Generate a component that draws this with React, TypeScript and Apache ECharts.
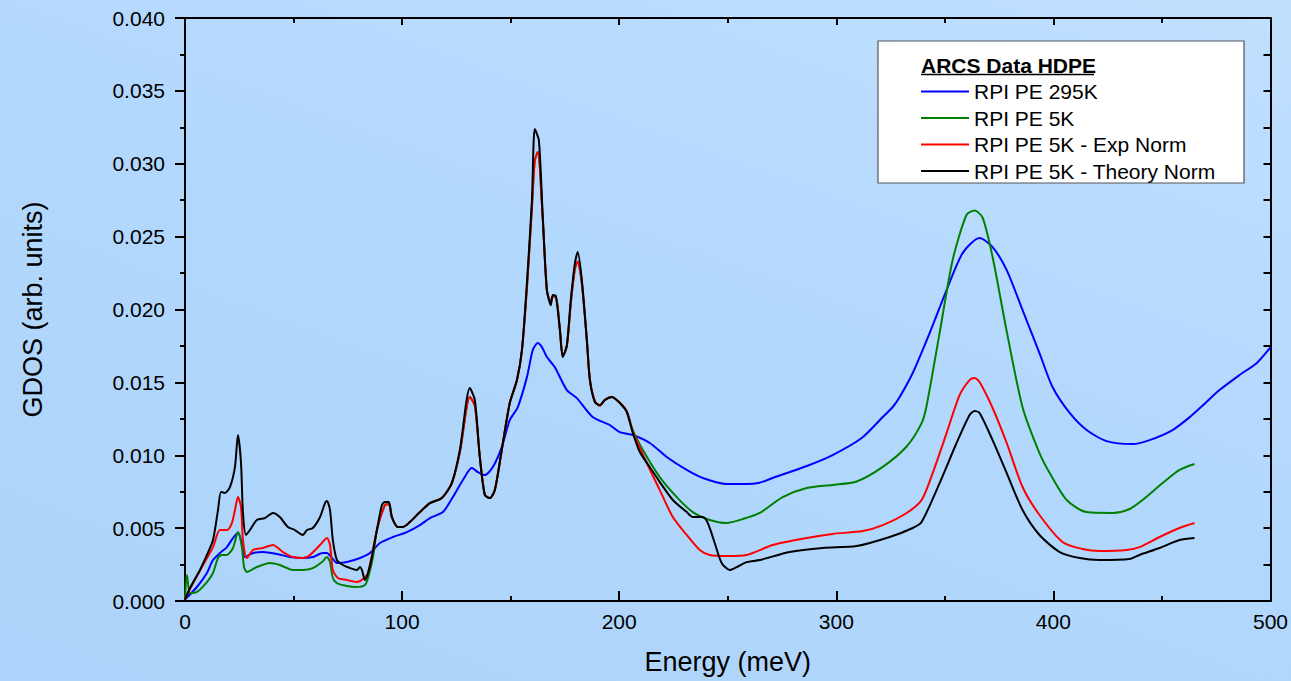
import React, { useEffect, useRef } from "react";
import * as echarts from "echarts";

const FONT = '"Liberation Sans", Arial, sans-serif';

const seriesNames = ["RPI PE 295K", "RPI PE 5K", "RPI PE 5K - Exp Norm", "RPI PE 5K - Theory Norm"];
const seriesColors = ["#0000ff", "#008000", "#ff0000", "#000000"];
const legendTitle = "ARCS Data HDPE";
const xTitle = "Energy (meV)";
const yTitle = "GDOS (arb. units)";

const pe295K: [number, number][] = [
  [0, 0.0001], [5.5, 0.00096], [10.1, 0.00192], [12.9, 0.00281], [16.1, 0.00329], [19.3, 0.0037], [22.1, 0.00432],
  [24.4, 0.00466], [26.2, 0.00398], [27.6, 0.00302], [31.3, 0.00329], [35.9, 0.00336], [42.4, 0.00322], [48.3, 0.00302],
  [54.3, 0.00295], [58.9, 0.00302], [63.5, 0.00329], [65.4, 0.00329], [67.7, 0.00295], [70.0, 0.00261], [74.6, 0.00267],
  [80.6, 0.00295], [85.2, 0.00329], [89.8, 0.00398], [95.8, 0.00439], [102.2, 0.00473], [108.2, 0.00521], [112.8, 0.00569],
  [118.8, 0.0061], [123.4, 0.00713], [128.0, 0.0083], [132.1, 0.00912], [134.9, 0.00885], [138.1, 0.00864], [141.8, 0.00919],
  [145.9, 0.01056], [149.6, 0.01241], [153.3, 0.01331], [157.5, 0.01536], [160.2, 0.01722], [162.5, 0.0177], [164.4, 0.01742],
  [166.7, 0.01674], [170.3, 0.01605], [175.9, 0.01447], [180.5, 0.01392], [187.8, 0.01262], [195.7, 0.01207], [200.3, 0.01159],
  [206.3, 0.01139], [214.1, 0.01084], [221.9, 0.00988], [231.1, 0.00899], [238.5, 0.00844], [249.5, 0.00803], [258.7, 0.00803],
  [264.7, 0.00812], [270.7, 0.00844], [286.4, 0.00926], [298.3, 0.01001], [311.7, 0.01118], [321.4, 0.01262], [326.0, 0.01331],
  [329.2, 0.01399], [335.2, 0.01564], [343.0, 0.01838], [350.8, 0.02133], [358.2, 0.02387], [366.0, 0.0249], [372.0, 0.02428],
  [378.5, 0.0227], [385.8, 0.01996], [393.6, 0.01701], [399.6, 0.01468], [407.5, 0.0129], [415.3, 0.01173], [424.5, 0.01097],
  [436.5, 0.01077], [444.3, 0.01104], [454.9, 0.01173], [462.7, 0.0126], [468.7, 0.0134], [476.5, 0.01447], [485.7, 0.0155],
  [493.6, 0.01632], [500, 0.0174],
];

const pe5K: [number, number][] = [
  [0, 0.0002], [0.9, 0.00178], [2.3, 0.00055], [5.5, 0.00062], [10.1, 0.0013], [12.9, 0.00192], [15.2, 0.00295], [17.0, 0.00316],
  [19.3, 0.00316], [22.1, 0.00364], [24.4, 0.00473], [26.2, 0.0037], [27.2, 0.00233], [28.5, 0.00199], [33.1, 0.00233],
  [39.1, 0.00261], [43.7, 0.00247], [49.7, 0.00213], [54.3, 0.00213], [58.9, 0.00226], [63.1, 0.00267], [65.4, 0.00302],
  [66.8, 0.00267], [68.1, 0.00158], [70.0, 0.00123], [74.6, 0.00103], [79.2, 0.00096], [82.9, 0.0011], [84.3, 0.00158],
  [86.6, 0.00302], [88.4, 0.00487], [92.1, 0.00658], [93.9, 0.00665], [95.3, 0.00576], [98.1, 0.00508], [100.4, 0.00508],
  [103.6, 0.00542], [108.2, 0.0061], [112.8, 0.00672], [118.3, 0.00706], [122.9, 0.00809], [126.6, 0.0102], [131.2, 0.014],
  [133.5, 0.0134], [135.8, 0.00988], [138.1, 0.0073], [140.4, 0.00706], [142.7, 0.00761], [145.9, 0.01036], [149.6, 0.01358],
  [152.9, 0.01516], [155.2, 0.0172], [157.5, 0.0215], [159.8, 0.027], [161.1, 0.0302], [162.5, 0.0308], [164.8, 0.0262],
  [166.7, 0.0213], [168.5, 0.0205], [169.4, 0.0209], [170.8, 0.0209], [172.7, 0.0186], [174.0, 0.0168], [175.9, 0.0175],
  [177.7, 0.0204], [179.6, 0.0228], [180.9, 0.0233], [182.8, 0.0218], [185.1, 0.0179], [186.5, 0.0152], [188.8, 0.0137],
  [191.1, 0.0134], [193.4, 0.0138], [196.6, 0.014], [200.3, 0.0136], [203.5, 0.013], [206.3, 0.0117], [210.9, 0.01036],
  [218.7, 0.0085], [226.5, 0.00713], [233.9, 0.0061], [241.7, 0.00556], [249.5, 0.00535], [256.9, 0.00562], [264.7, 0.00604],
  [275.3, 0.00713], [286.4, 0.00775], [298.3, 0.00796], [309.4, 0.0082], [321.4, 0.0092], [332.4, 0.0106], [339.3, 0.0122],
  [341.6, 0.0134], [347.6, 0.0184], [353.6, 0.0234], [360.0, 0.0265], [363.7, 0.0268], [367.4, 0.0263], [372.0, 0.0236],
  [378.5, 0.0185], [385.8, 0.0133], [393.6, 0.01015], [398.3, 0.00878], [406.1, 0.00693], [415.3, 0.0061], [427.3, 0.00604],
  [435.1, 0.00631], [441.1, 0.00693], [450.3, 0.00809], [458.1, 0.00899], [465.0, 0.0094],
];

const pe5KExp: [number, number][] = [
  [0, 0.0001], [3.7, 0.00123], [8.3, 0.00247], [12.9, 0.0037], [16.1, 0.00487], [19.3, 0.00487], [21.6, 0.00535], [23.0, 0.00624],
  [24.4, 0.00713], [25.8, 0.00645], [26.7, 0.00418], [28.5, 0.00295], [31.3, 0.0035], [35.9, 0.00364], [40.5, 0.00384],
  [45.1, 0.00336], [49.7, 0.00302], [54.3, 0.00295], [57.6, 0.00316], [62.2, 0.00384], [65.4, 0.00432], [66.8, 0.00384],
  [68.1, 0.00213], [70.4, 0.00158], [74.6, 0.00144], [79.2, 0.0013], [82.0, 0.00151], [84.3, 0.00192], [88.4, 0.00487],
  [92.1, 0.00658], [93.9, 0.00665], [95.3, 0.00576], [98.1, 0.00508], [100.4, 0.00508], [103.6, 0.00542], [108.2, 0.0061],
  [112.8, 0.00672], [118.3, 0.00706], [122.9, 0.00809], [126.6, 0.0102], [131.2, 0.014], [133.5, 0.0134], [135.8, 0.00988],
  [138.1, 0.0073], [140.4, 0.00706], [142.7, 0.00761], [145.9, 0.01036], [149.6, 0.01358], [152.9, 0.01516], [155.2, 0.0172],
  [157.5, 0.0215], [159.8, 0.027], [161.1, 0.0302], [162.5, 0.0308], [164.8, 0.0262], [166.7, 0.0213], [168.5, 0.0205],
  [169.4, 0.0209], [170.8, 0.0209], [172.7, 0.0186], [174.0, 0.0168], [175.9, 0.0175], [177.7, 0.0204], [179.6, 0.0228],
  [180.9, 0.0233], [182.8, 0.0218], [185.1, 0.0179], [186.5, 0.0152], [188.8, 0.0137], [191.1, 0.0134], [193.4, 0.0138],
  [196.6, 0.014], [200.3, 0.0136], [203.5, 0.013], [206.3, 0.0116], [212.7, 0.00947], [218.7, 0.00761], [224.7, 0.00576],
  [231.1, 0.00453], [237.1, 0.0035], [241.7, 0.00316], [249.5, 0.00309], [258.7, 0.00316], [270.7, 0.00384], [286.4, 0.00432],
  [298.3, 0.0046], [312.2, 0.0048], [321.4, 0.00521], [332.4, 0.00604], [339.3, 0.00693], [344.4, 0.00878], [350.8, 0.01152],
  [356.8, 0.01413], [361.4, 0.01516], [363.7, 0.0153], [366.0, 0.01502], [372.0, 0.01324], [378.5, 0.01084], [385.8, 0.00782],
  [393.6, 0.0059], [404.2, 0.00405], [413.4, 0.00357], [421.3, 0.00343], [433.7, 0.0035], [439.7, 0.0037], [448.9, 0.00439],
  [458.1, 0.00501], [465.0, 0.00535],
];

const pe5KTheory: [number, number][] = [
  [0, 0.0001], [2.3, 0.00089], [6.9, 0.00213], [10.1, 0.00316], [12.9, 0.00418], [15.2, 0.00624], [16.6, 0.00748], [18.4, 0.00741],
  [20.7, 0.00782], [23.0, 0.00919], [24.4, 0.01139], [25.8, 0.00947], [26.7, 0.00604], [28.1, 0.00453], [29.9, 0.00487],
  [33.1, 0.00556], [36.8, 0.00569], [40.5, 0.00604], [43.7, 0.00576], [47.4, 0.00508], [50.6, 0.00487], [54.3, 0.00453],
  [56.2, 0.00487], [58.9, 0.00501], [62.2, 0.00576], [64.5, 0.00672], [65.4, 0.00686], [66.8, 0.00624], [68.1, 0.00418],
  [70.0, 0.00281], [72.7, 0.00247], [76.0, 0.00226], [79.2, 0.00213], [80.6, 0.00233], [81.5, 0.00213], [82.9, 0.00144],
  [84.3, 0.00192], [86.1, 0.00302], [88.4, 0.00487], [90.7, 0.00658], [92.1, 0.00679], [93.9, 0.00679], [95.3, 0.00576],
  [98.1, 0.00508], [100.4, 0.00508], [103.6, 0.00542], [108.2, 0.0061], [112.8, 0.00672], [118.3, 0.00706], [122.9, 0.00809],
  [126.6, 0.01036], [131.2, 0.01461], [133.5, 0.01379], [135.8, 0.00988], [138.1, 0.00727], [140.4, 0.00706], [142.7, 0.00761],
  [145.9, 0.01036], [149.6, 0.01358], [152.9, 0.01516], [155.2, 0.01722], [157.5, 0.02181], [159.8, 0.0275], [161.1, 0.03238],
  [163.0, 0.03162], [164.8, 0.02634], [166.7, 0.02133], [168.5, 0.0203], [169.4, 0.02099], [170.8, 0.02092], [172.7, 0.01859],
  [174.0, 0.01674], [175.9, 0.01756], [177.7, 0.02065], [179.6, 0.02318], [180.9, 0.02394], [182.8, 0.02202], [185.1, 0.0179],
  [186.5, 0.01516], [188.8, 0.01365], [191.1, 0.01344], [193.4, 0.01379], [196.6, 0.01399], [200.3, 0.01358], [203.5, 0.01296],
  [206.3, 0.01152], [209.5, 0.01022], [214.1, 0.00919], [218.7, 0.00816], [224.7, 0.00693], [231.1, 0.0061], [233.9, 0.00576],
  [238.5, 0.00576], [240.8, 0.00535], [244.0, 0.00398], [247.2, 0.00261], [250.9, 0.00213], [254.1, 0.00233], [258.7, 0.00267],
  [264.7, 0.00281], [278.5, 0.00336], [293.7, 0.00364], [309.4, 0.00377], [324.6, 0.00439], [335.2, 0.00501], [339.3, 0.00542],
  [347.6, 0.00809], [355.4, 0.01084], [361.4, 0.01276], [363.7, 0.01303], [366.0, 0.0129], [372.0, 0.01104], [378.5, 0.00878],
  [385.8, 0.00624], [393.6, 0.00453], [402.9, 0.00336], [412.1, 0.00295], [421.3, 0.00281], [435.1, 0.00288], [439.7, 0.00316],
  [448.9, 0.00364], [458.1, 0.00418], [465.0, 0.00432],
];

const seriesData = [pe295K, pe5K, pe5KExp, pe5KTheory];

const X_MIN = 0, X_MAX = 500, X_STEP = 100;
const Y_MIN = 0, Y_MAX = 0.04, Y_STEP = 0.005;

export default function App() {
  const ref = useRef<HTMLDivElement>(null);

  useEffect(() => {
    if (!ref.current) return;
    const chart = echarts.init(ref.current, undefined, { renderer: "svg" });
    const axisLine = { show: true, onZero: false, lineStyle: { color: "#000", width: 2 } };
    const textBase = { color: "#000", fontFamily: FONT };

    chart.setOption({
      animation: false,
      backgroundColor: "transparent",
      grid: { left: 185, right: 19, top: 18, bottom: 80, containLabel: false },
      xAxis: [
        {
          type: "value", position: "bottom", min: X_MIN, max: X_MAX, interval: X_STEP,
          axisLine,
          axisTick: { show: true, inside: true, length: 10, lineStyle: { color: "#000", width: 2 } },
          minorTick: { show: true, splitNumber: 2, length: 5, lineStyle: { color: "#000", width: 2 } },
          splitLine: { show: false },
          axisLabel: { ...textBase, fontSize: 21, margin: 10 },
          name: xTitle, nameLocation: "middle", nameGap: 47,
          nameTextStyle: { ...textBase, fontSize: 27 },
        },
        {
          type: "value", position: "top", min: X_MIN, max: X_MAX, interval: X_STEP,
          axisLine,
          axisTick: { show: true, inside: true, length: 7, lineStyle: { color: "#000", width: 2 } },
          minorTick: { show: true, splitNumber: 2, length: 5, lineStyle: { color: "#000", width: 2 } },
          splitLine: { show: false },
          axisLabel: { show: false },
        },
      ],
      yAxis: [
        {
          type: "value", position: "left", min: Y_MIN, max: Y_MAX, interval: Y_STEP,
          axisLine,
          axisTick: { show: true, inside: false, length: 10, lineStyle: { color: "#000", width: 2 } },
          minorTick: { show: true, splitNumber: 2, length: 5, lineStyle: { color: "#000", width: 2 } },
          splitLine: { show: false },
          axisLabel: { ...textBase, fontSize: 21, margin: 20, formatter: (v: number) => v.toFixed(3) },
          name: yTitle, nameLocation: "middle", nameGap: 139, nameRotate: 90,
          nameTextStyle: { ...textBase, fontSize: 27 },
        },
        {
          type: "value", position: "right", min: Y_MIN, max: Y_MAX, interval: Y_STEP,
          axisLine,
          axisTick: { show: true, inside: true, length: 7, lineStyle: { color: "#000", width: 2 } },
          minorTick: { show: true, splitNumber: 2, length: 7, lineStyle: { color: "#000", width: 2 } },
          splitLine: { show: false },
          axisLabel: { show: false },
        },
      ],
      legend: {
        data: seriesNames.map((n) => ({ name: n, icon: "rect" })),
        orient: "vertical",
        left: 921,
        top: 81,
        padding: 0,
        itemWidth: 48,
        itemHeight: 2,
        itemGap: 5.5,
        textStyle: { ...textBase, fontSize: 21 },
        z: 10,
      },
      graphic: [
        {
          type: "rect", x: 878, y: 41, z: 5,
          shape: { width: 366, height: 142 },
          style: { fill: "#ffffff", stroke: "#555555", lineWidth: 1.2 },
        },
        {
          type: "text", x: 921, y: 65, z: 6,
          style: { text: legendTitle, fill: "#000", font: `bold 21px ${FONT}`, verticalAlign: "middle" },
        },
        {
          type: "line", z: 6,
          shape: { x1: 921, y1: 74.5, x2: 1094, y2: 74.5 },
          style: { stroke: "#000", lineWidth: 1.5 },
        },
      ],
      series: seriesData.map((d, i) => ({
        name: seriesNames[i],
        type: "line",
        xAxisIndex: 0,
        yAxisIndex: 0,
        data: d,
        showSymbol: false,
        symbol: "none",
        smooth: 0.25,
        lineStyle: { color: seriesColors[i], width: 2 },
        itemStyle: { color: seriesColors[i] },
        z: 2 + i,
      })),
    });

    return () => chart.dispose();
  }, []);

  return (
    <div
      style={{
        position: "fixed", left: 0, top: 0, width: 1291, height: 681,
        background: "linear-gradient(200deg, #c0e0ff 0%, #b3d8fd 45%, #aed3fa 100%)",
      }}
    >
      <div ref={ref} style={{ width: 1291, height: 681 }} />
    </div>
  );
}
